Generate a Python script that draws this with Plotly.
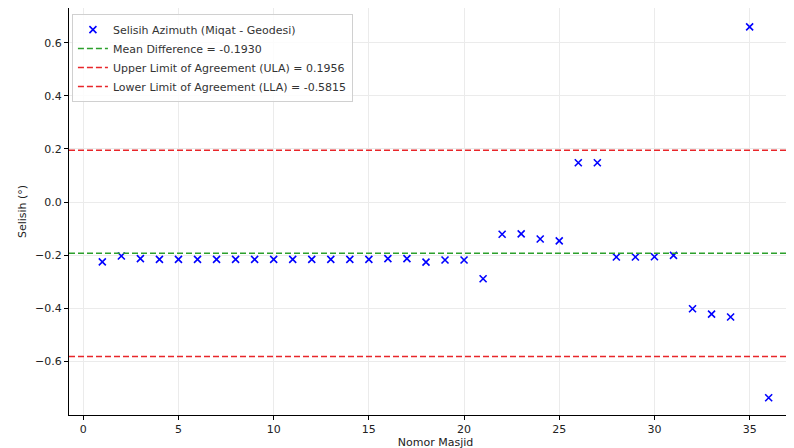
import plotly.graph_objects as go

masjid = list(range(1, 37))
selisih = [-0.225, -0.203, -0.213, -0.216, -0.216, -0.216, -0.216, -0.216, -0.216,
           -0.216, -0.216, -0.216, -0.216, -0.216, -0.216, -0.213, -0.213, -0.226,
           -0.218, -0.218, -0.289, -0.121, -0.120, -0.139, -0.146, 0.148, 0.148,
           -0.207, -0.207, -0.206, -0.201, -0.402, -0.422, -0.433, 0.660, -0.737]
mean_diff = -0.1930
ula = 0.1956
lla = -0.5815

x_range = [-0.75, 37.75]
y_range = [-0.802, 0.731]

fig = go.Figure()
fig.add_trace(go.Scatter(
    x=masjid, y=selisih, mode="markers", name="Selisih Azimuth (Miqat - Geodesi)",
    marker=dict(symbol="x-thin", size=7, color="blue", line=dict(color="blue", width=1.6)),
))
for val, col, label in [
    (mean_diff, "#2ca02c", f"Mean Difference = {mean_diff:.4f}"),
    (ula, "#e8262a", f"Upper Limit of Agreement (ULA) = {ula:.4f}"),
    (lla, "#e8262a", f"Lower Limit of Agreement (LLA) = {lla:.4f}"),
]:
    fig.add_trace(go.Scatter(
        x=x_range, y=[val, val], mode="lines", name=label,
        line=dict(color=col, width=1.5, dash="6px,3px"),
    ))

fig.update_layout(
    width=794, height=448,
    margin=dict(l=61, r=0, t=0, b=41),
    plot_bgcolor="white", paper_bgcolor="white",
    font=dict(family="DejaVu Sans", size=11, color="#222"),
    showlegend=True,
    legend=dict(
        x=0.004, y=0.985, xanchor="left", yanchor="top",
        bgcolor="rgba(255,255,255,0.85)", bordercolor="#d0d0d0", borderwidth=1,
        font=dict(size=11, color="#333"), tracegroupgap=0, itemwidth=30,
    ),
)
fig.update_xaxes(
    range=x_range, tickmode="array", tickvals=[0, 5, 10, 15, 20, 25, 30, 35],
    automargin=False,
    showgrid=True, gridcolor="#ebebeb", gridwidth=1, zeroline=False,
    showline=True, linecolor="black", linewidth=1, ticks="outside", ticklen=4,
    tickcolor="black", title=dict(text="Nomor Masjid", standoff=2, font=dict(size=11)),
)
fig.update_yaxes(
    range=y_range, tickmode="array", tickvals=[-0.6, -0.4, -0.2, 0.0, 0.2, 0.4, 0.6],
    tickformat=".1f", automargin=False,
    showgrid=True, gridcolor="#ebebeb", gridwidth=1, zeroline=False,
    showline=True, linecolor="black", linewidth=1, ticks="outside", ticklen=4,
    tickcolor="black", title=dict(text="Selisih (°)", standoff=6, font=dict(size=11)),
)

fig.write_html("out.html")
